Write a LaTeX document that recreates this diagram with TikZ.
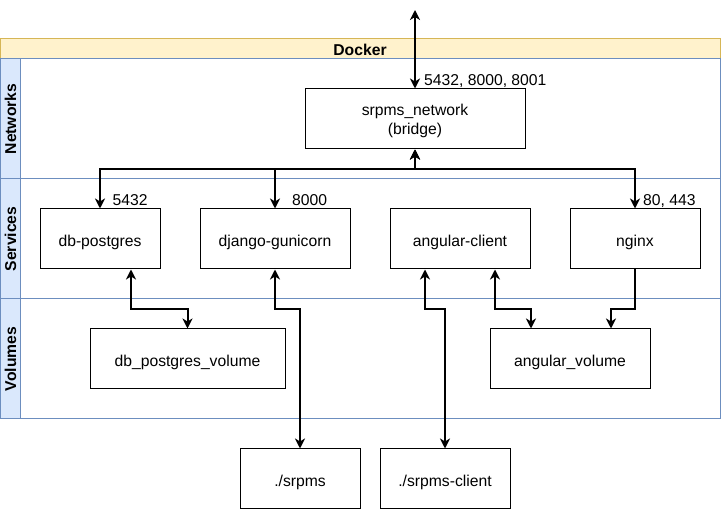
\documentclass[tikz,border=0pt]{standalone}
\usepackage{fontspec}
\setmainfont{Liberation Sans}
\usetikzlibrary{arrows.meta, calc, positioning}
\definecolor{dockfill}{HTML}{FFF2CC}
\definecolor{dockline}{HTML}{D6B656}
\definecolor{lanefill}{HTML}{DAE8FC}
\definecolor{laneline}{HTML}{6C8EBF}
\tikzstyle{box}=[fill=white, draw=black, line width=1pt, shape=rectangle, minimum height=60pt, inner sep=0pt, align=center, text height=16pt, text depth=1.4pt, font=\fontsize{15.7}{19}\selectfont]
\tikzstyle{port}=[inner sep=0pt, anchor=base west, font=\fontsize{15.7}{18.5}\selectfont]
\tikzstyle{lane}=[inner sep=0pt, rotate=90, font=\fontsize{15.7}{18.5}\selectfont\bfseries]
\tikzstyle{link}=[line width=2pt, >={Stealth[length=10pt,width=10pt,inset=3pt]}]

\begin{document}
\begin{tikzpicture}[x=1pt, y=-1pt]
	\useasboundingbox (0,0) rectangle (721,510);

	% docker container with its three lanes
	\filldraw[fill=dockfill, draw=dockline, line width=1pt] (0,39) rectangle (720,59);
	\node[inner sep=0pt, font=\fontsize{15.7}{18.5}\selectfont\bfseries] (docker) at (360,49.5) {Docker};
	\draw[draw=laneline, line width=1pt] (0,59) rectangle (720,179);
	\draw[draw=laneline, line width=1pt] (0,179) rectangle (720,299);
	\draw[draw=laneline, line width=1pt] (0,299) rectangle (720,419);
	\filldraw[fill=lanefill, draw=laneline, line width=1pt] (0,59) rectangle (20,179);
	\filldraw[fill=lanefill, draw=laneline, line width=1pt] (0,179) rectangle (20,299);
	\filldraw[fill=lanefill, draw=laneline, line width=1pt] (0,299) rectangle (20,419);
	\node[style=lane] (networks) at (10.5,119) {Networks};
	\node[style=lane] (services) at (10.5,239) {Services};
	\node[style=lane] (volumes) at (10.5,359) {Volumes};

	\node[style=box, minimum width=220pt, text height=33pt] (net) at (415,119) {srpms\_network\\(bridge)};
	\node[style=box, minimum width=120pt] (db) at (100,239) {db-postgres};
	\node[style=box, minimum width=150pt] (django) at (275,239) {django-gunicorn};
	\node[style=box, minimum width=140pt] (angular) at (460,239) {angular-client};
	\node[style=box, minimum width=130pt] (nginx) at (635,239) {nginx};
	\node[style=box, minimum width=195pt] (dbvol) at (187.5,359) {db\_postgres\_volume};
	\node[style=box, minimum width=160pt] (angvol) at (570,359) {angular\_volume};
	\node[style=box, minimum width=120pt] (srpms) at (300,479) {./srpms};
	\node[style=box, minimum width=130pt] (client) at (445,479) {./srpms-client};
	\coordinate (out) at (415,10);

	\node[style=port] (netports) at (424,85.7) {5432, 8000, 8001};
	\node[style=port] (dbport) at (112.5,205.5) {5432};
	\node[style=port] (djangoport) at (292,205.5) {8000};
	\node[style=port] (nginxport) at (643,205.5) {80, 443};

	\draw[style=link, <->] (out) -- (net.north);
	\draw[style=link, <->] (net.south) -- ++(0,20) -| (db.north);
	\draw[style=link, <->] (net.south) -- ++(0,20) -| (django.north);
	\draw[style=link, <->] (net.south) -- ++(0,20) -| (nginx.north);
	\draw[style=link, <->] ($(db.south)+(31,0)$) -- ++(0,40) -| (dbvol.north);
	\draw[style=link, <->] (django.south) -- ++(0,40) -| (srpms.north);
	\draw[style=link, <->] ($(angular.south)+(-35,0)$) -- ++(0,40) -| (client.north);
	\draw[style=link, <->] ($(angular.south)+(35,0)$) -- ++(0,40) -| ($(angvol.north)+(-39,0)$);
	\draw[style=link, ->] (nginx.south) -- ++(0,40) -| ($(angvol.north)+(41,0)$);
\end{tikzpicture}
\end{document}
